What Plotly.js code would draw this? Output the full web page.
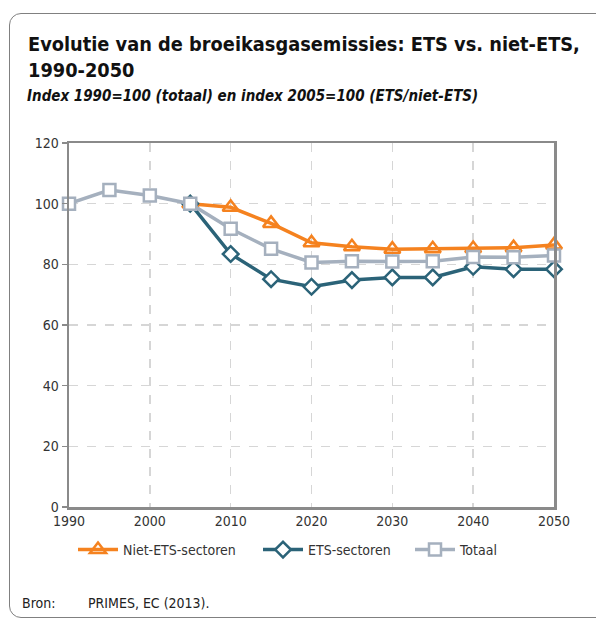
<!DOCTYPE html>
<html><head><meta charset="utf-8">
<script src="https://cdn.plot.ly/plotly-3.0.1.min.js"></script>
<style>
html,body{margin:0;padding:0;background:#fff;}
#wrap{position:relative;width:596px;height:624px;overflow:hidden;}
#frame{position:absolute;left:9px;top:13px;width:620px;height:605px;border:1.5px solid #808080;border-radius:12px;box-sizing:border-box;}
#chart{position:absolute;left:0;top:0;width:596px;height:624px;}
</style></head>
<body><div id="wrap"><div id="frame"></div><div id="chart"></div></div>
<script>
const years = [1990, 1995, 2000, 2005, 2010, 2015, 2020, 2025, 2030, 2035, 2040, 2045, 2050];
const yearsFrom2005 = [2005, 2010, 2015, 2020, 2025, 2030, 2035, 2040, 2045, 2050];
const nietEts = [100, 98.8, 93.5, 87.1, 85.8, 85.0, 85.1, 85.2, 85.5, 86.4];
const ets = [100, 83.4, 75.1, 72.6, 74.8, 75.7, 75.7, 79.2, 78.4, 78.4];
const totaal = [100, 104.5, 102.7, 100, 91.7, 85.1, 80.6, 81.0, 80.9, 81.0, 82.4, 82.3, 82.9];
const seriesNames = ["Niet-ETS-sectoren", "ETS-sectoren", "Totaal"];
const xTicks = [1990, 2000, 2010, 2020, 2030, 2040, 2050];
const yTicks = [0, 20, 40, 60, 80, 100, 120];

const FONT = "DejaVu Sans Condensed, DejaVu Sans, sans-serif";
const px = v => (v - 69) / 485;
const traces = [
  {x: yearsFrom2005, y: nietEts, name: seriesNames[0], mode: "lines+markers", legend: "legend", cliponaxis: false,
   line: {color: "#F5821F", width: 3.5},
   marker: {symbol: "triangle-up-open", size: 14, color: "#F5821F", line: {width: 2.5}}},
  {x: yearsFrom2005, y: ets, name: seriesNames[1], mode: "lines+markers", legend: "legend2", cliponaxis: false,
   line: {color: "#2B6378", width: 3.5},
   marker: {symbol: "diamond", size: 12, color: "#fff", line: {color: "#2B6378", width: 2.5}}},
  {x: years, y: totaal, name: seriesNames[2], mode: "lines+markers", legend: "legend3", cliponaxis: false,
   line: {color: "#A5B0BE", width: 3.5},
   marker: {symbol: "square", size: 12, color: "#fff", line: {color: "#A5B0BE", width: 2.5}}}
];
const legFont = {family: FONT, size: 14, color: "#333"};
const legBase = {orientation: "h", y: -(534-507)/364, yanchor: "top", xanchor: "left",
                 font: legFont, itemwidth: 40, bgcolor: "rgba(0,0,0,0)"};
const layout = {
  width: 596, height: 624,
  paper_bgcolor: "rgba(0,0,0,0)", plot_bgcolor: "#fff",
  margin: {l: 69, r: 42, t: 143, b: 117},
  font: {family: FONT, size: 13, color: "#333"},
  showlegend: true,
  legend: Object.assign({}, legBase, {x: px(73)}),
  legend2: Object.assign({}, legBase, {x: px(258)}),
  legend3: Object.assign({}, legBase, {x: px(410)}),
  xaxis: {range: [1990, 2050], tickvals: xTicks, ticktext: xTicks.map(String),
          showline: true, linecolor: "#8a8a8a", linewidth: 2.5, mirror: true,
          showgrid: true, gridcolor: "#d6d6d6", griddash: "dash", gridwidth: 1.5,
          ticks: "", zeroline: false, tickfont: {family: FONT, size: 14, color: "#333"}},
  yaxis: {range: [0, 120], tickvals: yTicks, showline: true, linecolor: "#8a8a8a", linewidth: 2.5, mirror: true,
          showgrid: true, gridcolor: "#d6d6d6", griddash: "dash", gridwidth: 1.5,
          ticks: "outside", ticklen: 5, tickwidth: 1.5, tickcolor: "#8a8a8a",
          zeroline: false, tickfont: {family: FONT, size: 14, color: "#333"}},
  annotations: [
    {xref: "paper", yref: "paper", x: px(26), y: 1 + (143-31)/364, xanchor: "left", yanchor: "top",
     align: "left", showarrow: false,
     text: "<b>Evolutie van de broeikasgasemissies: ETS vs. niet-ETS,</b>",
     font: {family: FONT, size: 19.8, color: "#111"}},
    {xref: "paper", yref: "paper", x: px(26), y: 1 + (143-57)/364, xanchor: "left", yanchor: "top",
     align: "left", showarrow: false,
     text: "<b>1990-2050</b>",
     font: {family: FONT, size: 19.8, color: "#111"}},
    {xref: "paper", yref: "paper", x: px(25), y: 1 + (143-85)/364, xanchor: "left", yanchor: "top",
     align: "left", showarrow: false,
     text: "<b><i>Index 1990=100 (totaal) en index 2005=100 (ETS/niet-ETS)</i></b>",
     font: {family: FONT, size: 15, color: "#111"}},
    {xref: "paper", yref: "paper", x: px(20), y: -(593-507)/364, xanchor: "left", yanchor: "top",
     showarrow: false, text: "Bron:", font: {family: FONT, size: 14, color: "#222"}},
    {xref: "paper", yref: "paper", x: px(86), y: -(593-507)/364, xanchor: "left", yanchor: "top",
     showarrow: false, text: "PRIMES, EC (2013).", font: {family: FONT, size: 14, color: "#222"}}
  ]
};
Plotly.newPlot("chart", traces, layout, {staticPlot: true, displayModeBar: false});
</script></body></html>
